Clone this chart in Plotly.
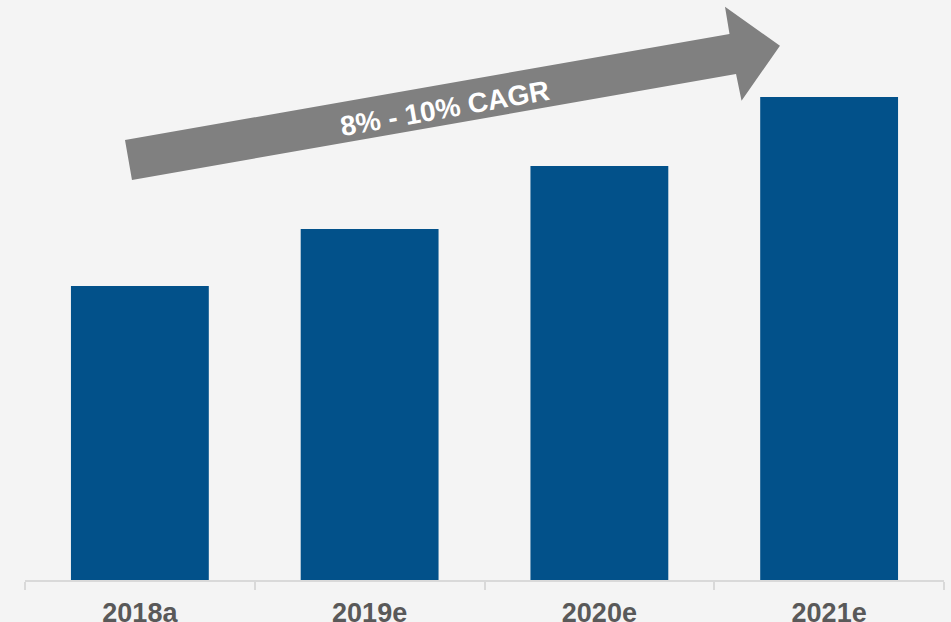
import plotly.graph_objects as go

categories = ["2018a", "2019e", "2020e", "2021e"]
values = [100, 119.4, 140.8, 164.3]
cagr_label = "8% - 10% CAGR"

W, H = 951, 622
ML, MR, MT, MB = 25, 7, 0, 42
PW, PH = W - ML - MR, H - MT - MB

def paper(px, py):
    return ((px - ML) / PW, (H - MB - py) / PH)

arrow_px = [(125, 140), (729.5, 34), (725, 6.7), (780, 45.7), (741.5, 100.7), (736, 74), (132, 180)]
pts = [paper(x, y) for x, y in arrow_px]
path = "M " + " L ".join(f"{x:.4f},{y:.4f}" for x, y in pts) + " Z"

fig = go.Figure(go.Bar(
    x=categories, y=values, width=0.6,
    marker=dict(color="#02518A", line=dict(width=0)),
    hoverinfo="skip",
))

tx, ty = paper(445, 109)

fig.update_layout(
    width=W, height=H,
    margin=dict(l=ML, r=MR, t=MT, b=MB, pad=0, autoexpand=False),
    paper_bgcolor="#F4F4F4", plot_bgcolor="#F4F4F4",
    showlegend=False,
    xaxis=dict(
        showgrid=False, showline=True, linecolor="#D9D9D9", linewidth=2,
        ticks="outside", tickson="boundaries", ticklen=8, tickcolor="#D9D9D9", tickwidth=2,
        ticklabelstandoff=8, automargin=False,
        tickfont=dict(family="Liberation Sans, Arial", size=27, color="#595959", weight="bold"),
        range=[-0.5, 3.5], fixedrange=True,
    ),
    yaxis=dict(visible=False, range=[0, 197.3], fixedrange=True, automargin=False),
    shapes=[dict(type="path", path=path, xref="paper", yref="paper",
                 fillcolor="#808080", line=dict(width=0), layer="above")],
    annotations=[dict(text=f"<b>{cagr_label}</b>", x=tx, y=ty, xref="paper", yref="paper",
                      xanchor="center", yanchor="middle",
                      showarrow=False, textangle=-10,
                      font=dict(family="Liberation Sans, Arial", size=28, color="white"))],
)

fig.write_html("out.html", config={"displayModeBar": False},
               post_script="document.body.style.margin='0';document.body.style.overflow='hidden';")
